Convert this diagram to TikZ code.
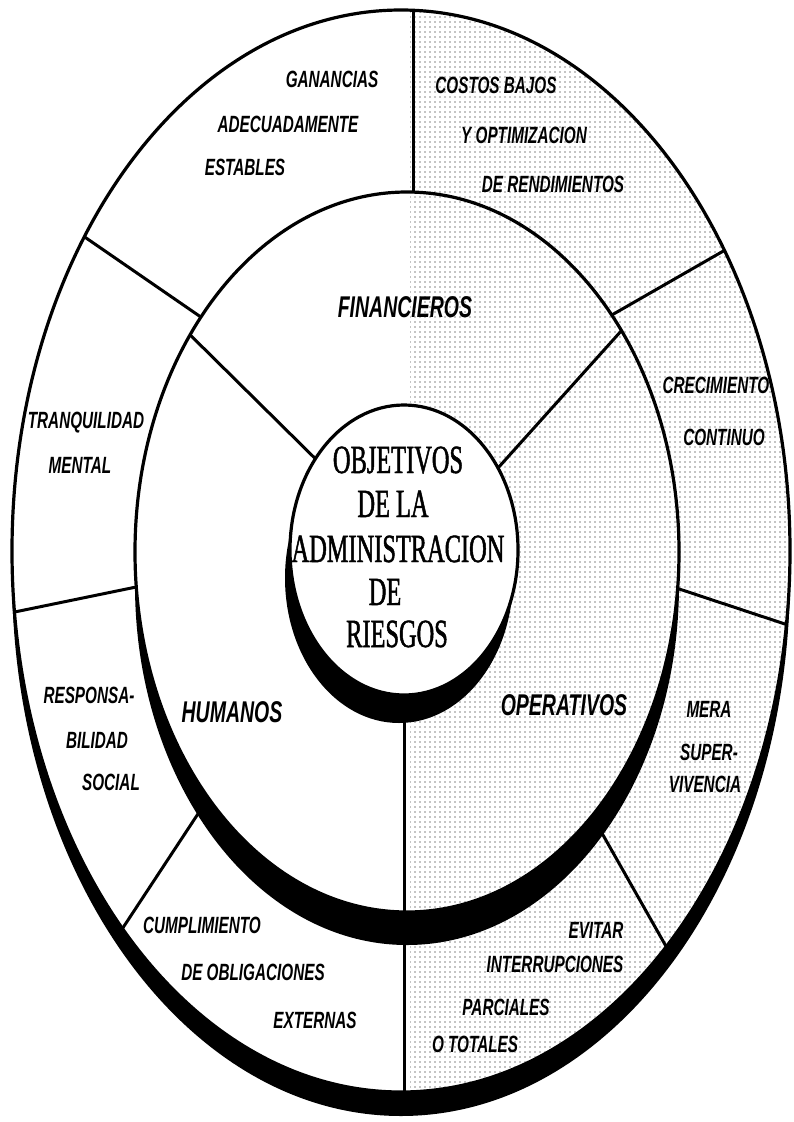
\documentclass[tikz,border=0pt]{standalone}
\usepackage{fontspec}
\usetikzlibrary{patterns.meta}
\newfontfamily\labelfont[FakeStretch=0.65]{Liberation Sans}
\newfontfamily\titlefont[FakeStretch=0.61, FakeBold=1.2]{Liberation Serif}

\begin{document}
\begin{tikzpicture}[x=1pt,y=-1pt,
  ring/.style={line width=3.2pt},
  divider/.style={line width=3pt},
  lab/.style={font=\labelfont\bfseries\itshape\fontsize{23.5}{26}\selectfont, inner sep=0pt, anchor=base},
  biglab/.style={font=\labelfont\bfseries\itshape\fontsize{30}{32}\selectfont, inner sep=0pt, anchor=base},
  title/.style={font=\titlefont\fontsize{40}{44}\selectfont, inner sep=0pt, anchor=base},
  dotted area/.style={pattern={Dots[distance=5pt, radius=0.6pt]}, pattern color=black}
]
\useasboundingbox (0,0) rectangle (794,1122);
\fill[white] (0,0) rectangle (794,1122);

% ---- outer ring: shadow, face, dividers, outline
\fill[black] (401,575) ellipse [x radius=389pt, y radius=541pt];
\fill[white] (401,551) ellipse [x radius=389pt, y radius=541pt];
\begin{scope}
  \clip (401,551) ellipse [x radius=389pt, y radius=541pt];
  \draw[divider] (413,0) -- (413,260);
  \draw[divider] (60,220) -- (240,344);
  \draw[divider] (760,230) -- (570,339);
  \draw[divider] (800,629) -- (640,576);
  \draw[divider] (0,615) -- (180,578);
  \draw[divider] (105,955) -- (215,788);
  \draw[divider] (680,971) -- (590,812);
  \draw[divider] (404,1120) -- (404,900);
\end{scope}
\draw[ring] (401,551) ellipse [x radius=389pt, y radius=541pt];

% ---- middle ring
\fill[black] (407,585) ellipse [x radius=272pt, y radius=360pt];
\fill[white] (407,552) ellipse [x radius=272pt, y radius=360pt];
\begin{scope}
  \clip (407,552) ellipse [x radius=272pt, y radius=360pt];
  \draw[divider] (170,315) -- (345,488);
  \draw[divider] (640,310) -- (480,488);
  \draw[divider] (404,960) -- (404,680);
\end{scope}
\draw[ring] (407,552) ellipse [x radius=272pt, y radius=360pt];

% ---- centre disc
\fill[black] (399,578) ellipse [x radius=114pt, y radius=145pt];
\fill[white] (404,550) ellipse [x radius=114pt, y radius=145pt];
\draw[ring] (404,550) ellipse [x radius=114pt, y radius=145pt];

% ---- halftone tone on the right-hand sectors
\begin{scope}
  \clip (410,0) rectangle (794,1122);
  \begin{scope}[even odd rule]
    \clip (401,551) ellipse [x radius=389pt, y radius=541pt]
          (404,550) ellipse [x radius=116pt, y radius=147pt];
    \fill[dotted area] (410,0) rectangle (794,1122);
  \end{scope}
\end{scope}

% ---- centre title
\node[title] (t1) at (398,473) {OBJETIVOS};
\node[title] (t2) at (393,517) {DE LA};
\node[title] (t3) at (398,562) {ADMINISTRACION};
\node[title] (t4) at (385,605) {DE};
\node[title] (t5) at (397,647) {RIESGOS};

% ---- middle ring labels
\node[biglab] (fin) at (405,317) {FINANCIEROS};
\node[biglab] (hum) at (232,722) {HUMANOS};
\node[biglab] (ope) at (564,715) {OPERATIVOS};

% ---- outer ring labels
\node[lab] (g1) at (332,87)  {GANANCIAS};
\node[lab] (g2) at (288,132) {ADECUADAMENTE};
\node[lab] (g3) at (245,175) {ESTABLES};

\node[lab] (c1) at (496,93)  {COSTOS BAJOS};
\node[lab] (c2) at (524,143) {Y OPTIMIZACION};
\node[lab] (c3) at (553,192) {DE RENDIMIENTOS};

\node[lab] (q1) at (86,428) {TRANQUILIDAD};
\node[lab] (q2) at (80,473) {MENTAL};

\node[lab] (k1) at (716,393) {CRECIMIENTO};
\node[lab] (k2) at (724,445) {CONTINUO};

\node[lab] (r1) at (89,703)  {RESPONSA-};
\node[lab] (r2) at (97,748)  {BILIDAD};
\node[lab] (r3) at (111,790) {SOCIAL};

\node[lab] (m1) at (709,717) {MERA};
\node[lab] (m2) at (709,760) {SUPER-};
\node[lab] (m3) at (705,792) {VIVENCIA};

\node[lab] (o1) at (202,933)  {CUMPLIMIENTO};
\node[lab] (o2) at (253,980)  {DE OBLIGACIONES};
\node[lab] (o3) at (315,1028) {EXTERNAS};

\node[lab] (e1) at (596,938)  {EVITAR};
\node[lab] (e2) at (555,972)  {INTERRUPCIONES};
\node[lab] (e3) at (506,1015) {PARCIALES};
\node[lab] (e4) at (475,1052) {O TOTALES};
\end{tikzpicture}
\end{document}
